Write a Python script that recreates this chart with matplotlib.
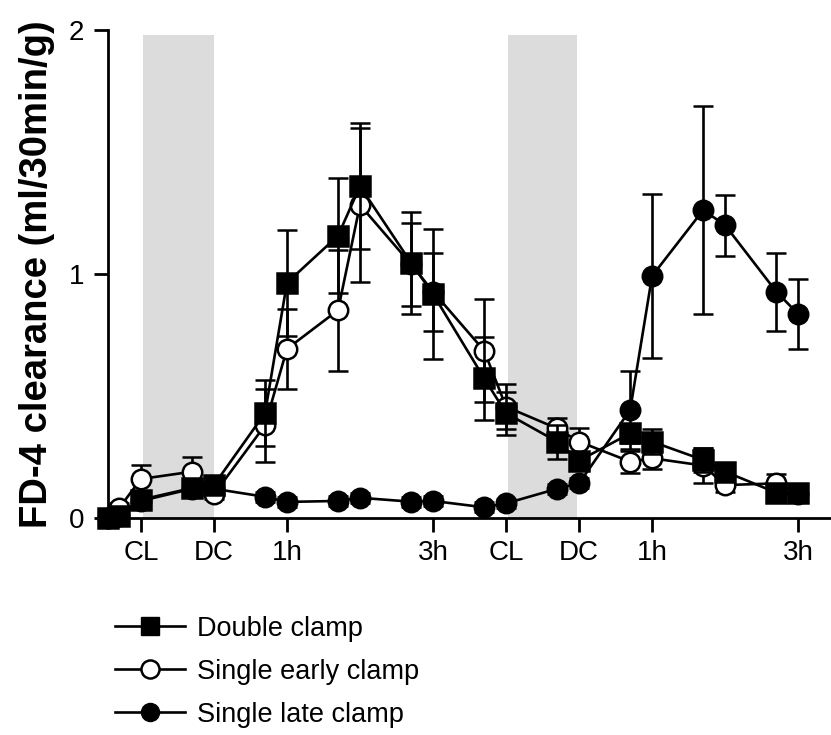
import matplotlib.pyplot as plt
from matplotlib.lines import Line2D

plt.rcParams['font.family'] = ['Liberation Sans', 'DejaVu Sans']

# time in minutes relative to the first clamp
time_min = [-27, -18, 0, 42, 60, 102, 120, 162, 180, 222, 240,
            282, 300, 342, 360, 402, 420, 462, 480, 522, 540]

double_clamp = [0.0, 0.01, 0.075, 0.123, 0.135, 0.43, 0.964, 1.157, 1.36, 1.046, 0.918,
                0.573, 0.43, 0.313, 0.235, 0.347, 0.313, 0.238, 0.19, 0.104, 0.104]
double_err = [0.01, 0.01, 0.03, 0.03, 0.03, 0.135, 0.216, 0.235, 0.258, 0.21, 0.265,
              0.17, 0.088, 0.07, 0.03, 0.04, 0.052, 0.05, 0.03, 0.03, 0.03]

early_clamp = [0.0, 0.04, 0.16, 0.19, 0.097, 0.38, 0.693, 0.852, 1.283, 1.04, 0.928,
               0.686, 0.456, 0.367, 0.313, 0.231, 0.245, 0.215, 0.135, 0.142, 0.10]
early_err = [0.01, 0.02, 0.057, 0.06, 0.02, 0.15, 0.163, 0.248, 0.317, 0.17, 0.16,
             0.21, 0.092, 0.042, 0.055, 0.045, 0.045, 0.07, 0.03, 0.04, 0.03]

late_clamp = [0.0, 0.01, 0.07, 0.12, 0.12, 0.087, 0.066, 0.07, 0.083, 0.067, 0.07,
              0.044, 0.06, 0.12, 0.142, 0.443, 0.992, 1.262, 1.20, 0.928, 0.836]
late_err = [0.01, 0.01, 0.02, 0.02, 0.02, 0.02, 0.02, 0.02, 0.02, 0.02, 0.02,
            0.02, 0.02, 0.02, 0.02, 0.16, 0.335, 0.425, 0.125, 0.16, 0.145]

tick_pos = [0, 60, 120, 240, 300, 360, 420, 540]
tick_labels = ['CL', 'DC', '1h', '3h', 'CL', 'DC', '1h', '3h']
clamp_periods = [(2, 60), (302, 358)]

fig = plt.figure(figsize=(8.31, 7.35), dpi=100)
ax = fig.add_axes([0.13, 0.2952, 0.87, 0.6640])

for start, end in clamp_periods:
    ax.axvspan(start, end, ymin=0, ymax=0.99, color='#dcdcdc', lw=0, zorder=0)

common = dict(color='black', lw=1.9, capsize=7.5, elinewidth=1.9, capthick=1.9,
              markersize=14, markeredgewidth=1.8, clip_on=False)

ax.errorbar(time_min, late_clamp, yerr=late_err, fmt='-o', mfc='black', zorder=3, **common)
ax.errorbar(time_min, early_clamp, yerr=early_err, fmt='-o', mfc='white', zorder=4, **common)
ax.errorbar(time_min, double_clamp, yerr=double_err, fmt='-s', mfc='black', zorder=5, **common)

ax.set_xlim(-27, 567)
ax.set_ylim(0, 2)
ax.set_yticks([0, 1, 2])
ax.set_xticks(tick_pos)
ax.set_xticklabels(tick_labels)
ax.tick_params(labelsize=20, width=2.0, length=10, pad=7)
ax.tick_params(axis='x', pad=6)

for side in ['top', 'right']:
    ax.spines[side].set_visible(False)
for side in ['left', 'bottom']:
    ax.spines[side].set_linewidth(2.0)

ax.set_ylabel('FD-4 clearance (ml/30min/g)', fontsize=27.5, fontweight='bold', labelpad=10)

handles = [
    Line2D([], [], color='black', lw=1.9, marker='s', ms=13, mfc='black'),
    Line2D([], [], color='black', lw=1.9, marker='o', ms=13, mfc='white', mew=1.8),
    Line2D([], [], color='black', lw=1.9, marker='o', ms=13, mfc='black'),
]
labels = ['Double clamp', 'Single early clamp', 'Single late clamp']
fig.legend(handles, labels, loc='upper left', bbox_to_anchor=(0.138, 0.162), frameon=False,
           fontsize=19.5, handlelength=2.6, handletextpad=0.45, labelspacing=0.62,
           borderaxespad=0, borderpad=0)

fig.savefig('out.png', dpi=100)
